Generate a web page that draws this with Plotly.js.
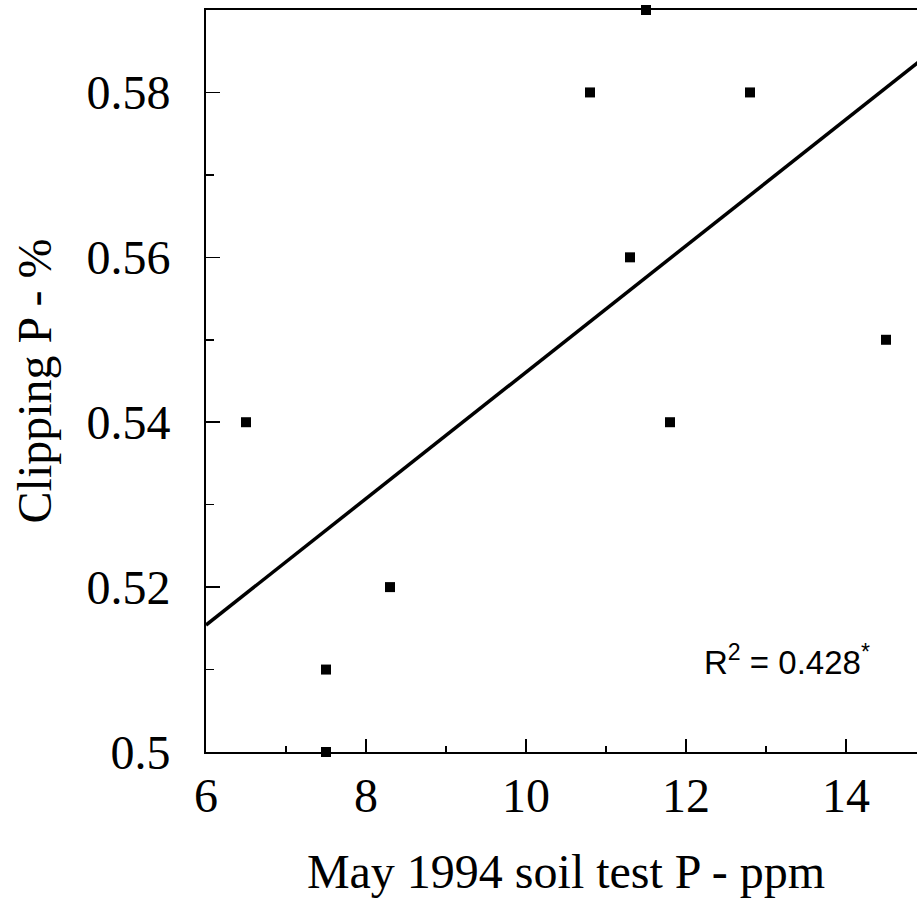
<!DOCTYPE html>
<html>
<head>
<meta charset="utf-8">
<script src="https://cdn.plot.ly/plotly-3.0.1.min.js"></script>
<style>html,body{margin:0;padding:0;background:#fff;overflow:hidden;width:917px;height:902px}</style>
</head>
<body>
<div id="chart" style="width:926px;height:902px"></div>
<script>
// Data
const soilP = [6.5, 7.5, 7.5, 8.3, 10.8, 11.5, 11.3, 11.8, 12.8, 14.5];
const clippingP = [0.54, 0.51, 0.50, 0.52, 0.58, 0.59, 0.56, 0.54, 0.58, 0.55];
// Fitted regression line, end points
const fitX = [6, 15];
const fitY = [0.5154, 0.5844];
const r2Text = "0.428";
const xRange = [6, 15];
const yRange = [0.5, 0.59];
const xTitle = "May 1994 soil test P - ppm";
const yTitle = "Clipping P - %";

const serif = "Liberation Serif, Times New Roman, serif";

const traces = [
  {
    x: fitX, y: fitY, mode: "lines", type: "scatter",
    line: {color: "#000", width: 3.5}, hoverinfo: "skip"
  },
  {
    x: soilP, y: clippingP, mode: "markers", type: "scatter",
    marker: {symbol: "square", size: 10, color: "#000"}, cliponaxis: false
  }
];

const layout = {
  width: 926, height: 902,
  margin: {l: 206, r: 0, t: 10, b: 150},
  paper_bgcolor: "#fff", plot_bgcolor: "#fff",
  showlegend: false,
  font: {family: serif, color: "#000"},
  xaxis: {
    range: xRange, dtick: 2, tick0: 6,
    ticks: "inside", ticklen: 13, tickwidth: 1.5, tickcolor: "#000",
    minor: {dtick: 1, ticks: "inside", ticklen: 6, tickwidth: 1.5, tickcolor: "#000"},
    showline: true, linecolor: "#000", linewidth: 2, mirror: true,
    showgrid: false, zeroline: false,
    tickfont: {family: serif, size: 48, color: "#000"},
    ticklabelstandoff: 0,
    title: {text: xTitle, font: {family: serif, size: 48, color: "#000"}, standoff: 34}
  },
  yaxis: {
    range: yRange, dtick: 0.02, tick0: 0.5,
    ticks: "inside", ticklen: 14, tickwidth: 1.5, tickcolor: "#000",
    minor: {dtick: 0.01, ticks: "inside", ticklen: 8, tickwidth: 1.5, tickcolor: "#000"},
    showline: true, linecolor: "#000", linewidth: 2, mirror: false,
    showgrid: false, zeroline: false,
    tickfont: {family: serif, size: 48, color: "#000"},
    ticklabelstandoff: 24,
    title: {text: yTitle, font: {family: serif, size: 48, color: "#000"}, standoff: 20}
  },
  annotations: [{
    x: 12.2, y: 0.5112, xref: "x", yref: "y",
    xanchor: "left", yanchor: "middle", showarrow: false,
    text: "R<sup>2</sup> = " + r2Text + "<sup>*</sup>",
    font: {family: "Liberation Sans, Arial, sans-serif", size: 33, color: "#000"}
  }]
};

Plotly.newPlot("chart", traces, layout, {displayModeBar: false, staticPlot: true});
</script>
</body>
</html>
